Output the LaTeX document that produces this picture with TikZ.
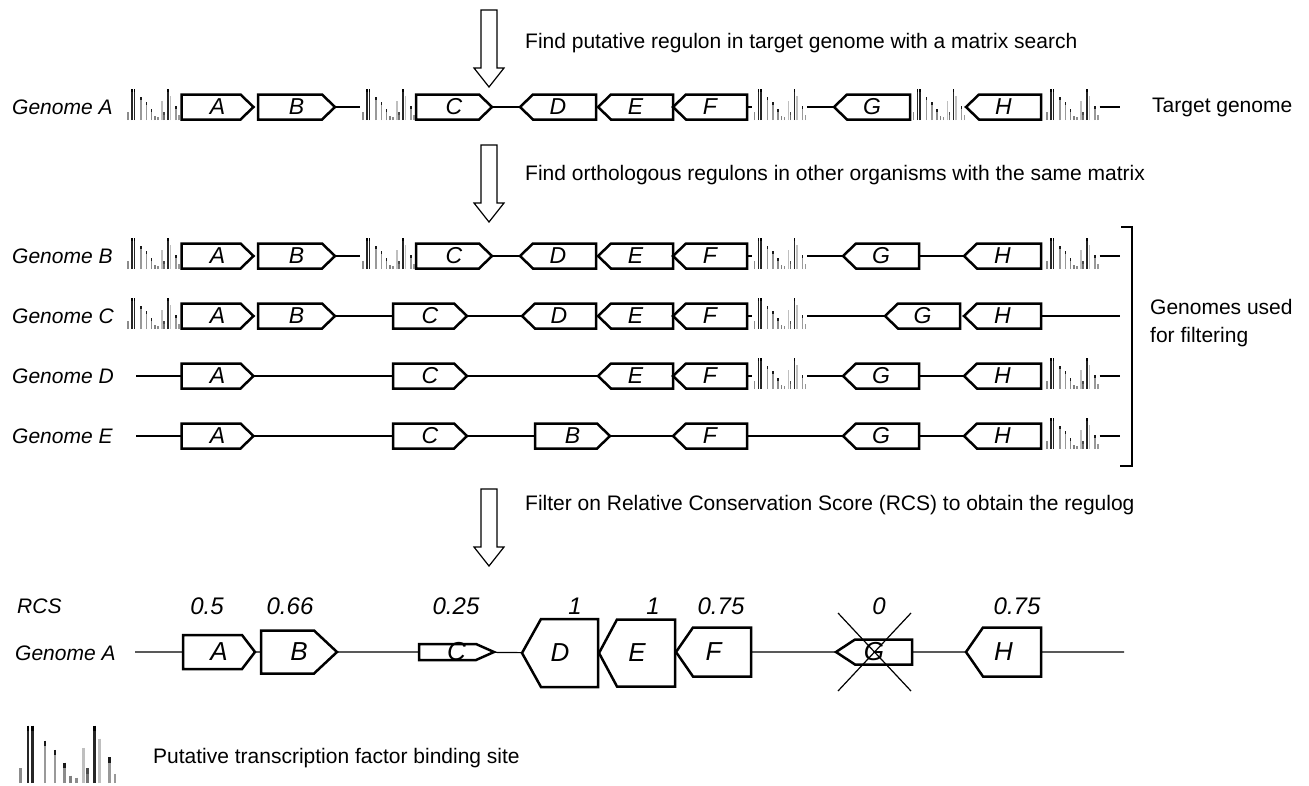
\documentclass[tikz,border=0pt]{standalone}
\usepackage{fontspec}
\setmainfont{Liberation Sans}

\tikzset{
  txt/.style={font=\fontsize{21}{28}\selectfont, inner sep=0pt},
  ittxt/.style={font=\fontsize{21}{28}\selectfont\itshape, inner sep=0pt},
  bigtxt/.style={font=\fontsize{24}{28}\selectfont\itshape, inner sep=0pt},
  genebody/.style={draw, fill=white, line width=2.5pt, line join=miter},
  genebox/.style={rectangle, inner sep=0pt, font=\fontsize{23}{28}\selectfont\itshape},
  dna/.style={line width=1.2pt},
  sitebar/.style={line width=1.4pt},
  % gene pointing right: {letter}{width}{height}{tip}
  pics/fwd/.style n args={4}{code={
    \draw[genebody] ({-#2/2},{-#3/2}) -- ({#2/2-#4},{-#3/2}) -- ({#2/2},0)
      -- ({#2/2-#4},{#3/2}) -- ({-#2/2},{#3/2}) -- cycle;
    \node[genebox, minimum width=#2pt, minimum height=#3pt] (-g) at (0,0) {#1};
  }},
  % gene pointing left
  pics/rev/.style n args={4}{code={
    \draw[genebody] ({#2/2},{-#3/2}) -- ({-#2/2+#4},{-#3/2}) -- ({-#2/2},0)
      -- ({-#2/2+#4},{#3/2}) -- ({#2/2},{#3/2}) -- cycle;
    \node[genebox, minimum width=#2pt, minimum height=#3pt] (-g) at (0,0) {#1};
  }},
  % binding site logo, baseline 13 below its centre
  site/.pic={
    \node[inner sep=0pt, minimum width=55pt, minimum height=26pt] (-box) at (0,0) {};
    \foreach \bx/\bh/\bt/\bc in {-25/8/45/45, -21/31/85/100, -18.5/31/85/100,
        -12/23/40/90, -6.5/18/40/90, -1.5/11/45/90, 2/4/50/50, 5/3/45/45,
        9/19/25/25, 11/8/55/70, 15/31/85/100, 17.5/24/25/25, 23/14/40/90, 26/5/40/40}{
      \draw[sitebar, black!\bt] (\bx,13) -- (\bx,13-\bh);
      \draw[sitebar, black!\bc] (\bx,13-\bh) -- (\bx,16-\bh);
    }
  },
  stepdown/.pic={
    \draw[line width=1.2pt, fill=white] (-8,0) -- (-8,58) -- (-15,58) -- (0,77)
      -- (15,58) -- (8,58) -- (8,0) -- cycle;
  }
}

\begin{document}
\begin{tikzpicture}[x=1pt, y=-1pt]
  \useasboundingbox (0,0) rectangle (1309,785);

  % steps
  \pic at (489,10) {stepdown};
  \pic at (489,145) {stepdown};
  \pic at (489,489) {stepdown};
  \node[txt, anchor=west] (t1) at (525,43) {Find putative regulon in target genome with a matrix search};
  \node[txt, anchor=west] (t2) at (525,175) {Find orthologous regulons in other organisms with the same matrix};
  \node[txt, anchor=west] (t3) at (525,505) {Filter on Relative Conservation Score (RCS) to obtain the regulog};

  % target genome
  \node[ittxt, anchor=west] (n1) at (12,107) {Genome A};
  \pic (s11) at (153,107) {site};
  \pic (a1) at (217.5,107) {fwd={A}{72}{25}{13}};
  \pic (b1) at (296.5,107) {fwd={B}{77}{25}{13}};
  \pic (s12) at (388,107) {site};
  \pic (c1) at (454,107) {fwd={C}{76}{25}{13}};
  \pic (d1) at (558,107) {rev={D}{76}{25}{13}};
  \pic (e1) at (635.5,107) {rev={E}{75}{25}{13}};
  \pic (f1) at (710,107) {rev={F}{74}{25}{13}};
  \pic (s13) at (779.5,107) {site};
  \pic (g1) at (872,107) {rev={G}{76}{25}{13}};
  \pic (s14) at (938.5,107) {site};
  \pic (h1) at (1003.5,107) {rev={H}{75}{25}{13}};
  \pic (s15) at (1072,107) {site};
  \coordinate (z1) at (1120,107);
  \draw[dna] (b1-g) -- (s12-box) -- (c1-g) -- (d1-g) (f1-g) -- (s13-box) -- (g1-g)
    (s15-box) -- (z1);
  \node[txt, anchor=west] (tg) at (1152,107) {Target genome};

  % genome B
  \node[ittxt, anchor=west] (n2) at (12,256) {Genome B};
  \pic (s21) at (153,256) {site};
  \pic (a2) at (217.5,256) {fwd={A}{72}{25}{13}};
  \pic (b2) at (296.5,256) {fwd={B}{77}{25}{13}};
  \pic (s22) at (388,256) {site};
  \pic (c2) at (454,256) {fwd={C}{76}{25}{13}};
  \pic (d2) at (558,256) {rev={D}{76}{25}{13}};
  \pic (e2) at (635.5,256) {rev={E}{75}{25}{13}};
  \pic (f2) at (710,256) {rev={F}{74}{25}{13}};
  \pic (s23) at (779.5,256) {site};
  \pic (g2) at (881,256) {rev={G}{76}{25}{13}};
  \pic (h2) at (1002.5,256) {rev={H}{77}{25}{13}};
  \pic (s25) at (1072,256) {site};
  \coordinate (z2) at (1120,256);
  \draw[dna] (b2-g) -- (s22-box) -- (c2-g) -- (d2-g) (f2-g) -- (s23-box) -- (g2-g) -- (h2-g)
    (s25-box) -- (z2);

  % genome C
  \node[ittxt, anchor=west] (n3) at (12,316) {Genome C};
  \pic (s31) at (153,316) {site};
  \pic (a3) at (217.5,316) {fwd={A}{72}{25}{13}};
  \pic (b3) at (296.5,316) {fwd={B}{77}{25}{13}};
  \pic (c3) at (430,316) {fwd={C}{74}{25}{13}};
  \pic (d3) at (559,316) {rev={D}{74}{25}{13}};
  \pic (e3) at (635.5,316) {rev={E}{75}{25}{13}};
  \pic (f3) at (710,316) {rev={F}{74}{25}{13}};
  \pic (s33) at (779.5,316) {site};
  \pic (g3) at (922.5,316) {rev={G}{75}{25}{13}};
  \pic (h3) at (1002.5,316) {rev={H}{77}{25}{13}};
  \coordinate (z3) at (1120,316);
  \draw[dna] (b3-g) -- (c3-g) -- (d3-g) (f3-g) -- (s33-box) -- (g3-g) (h3-g) -- (z3);

  % genome D
  \node[ittxt, anchor=west] (n4) at (12,376) {Genome D};
  \coordinate (y4) at (136,376);
  \pic (a4) at (217.5,376) {fwd={A}{72}{25}{13}};
  \pic (c4) at (430,376) {fwd={C}{74}{25}{13}};
  \pic (e4) at (635.5,376) {rev={E}{75}{25}{13}};
  \pic (f4) at (710,376) {rev={F}{74}{25}{13}};
  \pic (s43) at (779.5,376) {site};
  \pic (g4) at (881,376) {rev={G}{76}{25}{13}};
  \pic (h4) at (1002.5,376) {rev={H}{77}{25}{13}};
  \pic (s45) at (1072,376) {site};
  \coordinate (z4) at (1120,376);
  \draw[dna] (y4) -- (a4-g) -- (c4-g) -- (e4-g) (f4-g) -- (s43-box) -- (g4-g) -- (h4-g)
    (s45-box) -- (z4);

  % genome E
  \node[ittxt, anchor=west] (n5) at (12,436) {Genome E};
  \coordinate (y5) at (136,436);
  \pic (a5) at (217.5,436) {fwd={A}{72}{25}{13}};
  \pic (c5) at (430,436) {fwd={C}{74}{25}{13}};
  \pic (b5) at (572.5,436) {fwd={B}{75}{25}{13}};
  \pic (f5) at (710,436) {rev={F}{74}{25}{13}};
  \pic (g5) at (881,436) {rev={G}{76}{25}{13}};
  \pic (h5) at (1002.5,436) {rev={H}{77}{25}{13}};
  \pic (s55) at (1072,436) {site};
  \coordinate (z5) at (1120,436);
  \draw[dna] (y5) -- (a5-g) -- (c5-g) -- (b5-g) -- (f5-g) -- (g5-g) -- (h5-g)
    (s55-box) -- (z5);

  \draw[dna] (1121,227) -- (1132,227) -- (1132,466) -- (1120,466);
  \node[txt, anchor=west, align=left] (use) at (1150,323) {Genomes used\\for filtering};

  % regulog
  \node[ittxt, anchor=west] (rcs) at (17,606) {RCS};
  \node[ittxt, anchor=west] (n6) at (15,653) {Genome A};
  \coordinate (y6) at (135,652);
  \begin{scope}[genebox/.append style={font=\fontsize{26}{28}\selectfont\itshape}, every node/.append style={bigtxt}]
    \pic (a6) at (219,652) {fwd={A}{72}{34}{13}};
    \pic (b6) at (299,652) {fwd={B}{76}{43}{23}};
    \pic (c6) at (456.5,652) {fwd={C}{75}{16}{18}};
    \pic (d6) at (560,653) {rev={D}{76}{68}{19}};
    \pic (e6) at (637,653) {rev={E}{76}{67}{18}};
    \pic (f6) at (713.5,652) {rev={F}{75}{49}{17}};
    \pic (g6) at (874,652) {rev={G}{76}{25}{19}};
    \pic (h6) at (1003.5,652) {rev={H}{75}{49}{17}};

    \node (r1) at (207,606) {0.5};
    \node (r2) at (290,606) {0.66};
    \node (r3) at (456,606) {0.25};
    \node (r4) at (575,606) {1};
    \node (r5) at (653,606) {1};
    \node (r6) at (721,606) {0.75};
    \node (r7) at (879,606) {0};
    \node (r8) at (1017,606) {0.75};
  \end{scope}
  \coordinate (z6) at (1124,652);
  \draw[dna] (y6) -- (a6-g) -- (b6-g) -- (c6-g) -- (d6-g) (f6-g) -- (g6-g) -- (h6-g) -- (z6);
  \draw[dna] (838,613) -- (911,691) (911,613) -- (838,691);

  % legend
  \pic[scale=1.85, sitebar/.style={line width=2.6pt}] (s0) at (67,759) {site};
  \node[txt, anchor=west] (key) at (153,758) {Putative transcription factor binding site};
\end{tikzpicture}
\end{document}
